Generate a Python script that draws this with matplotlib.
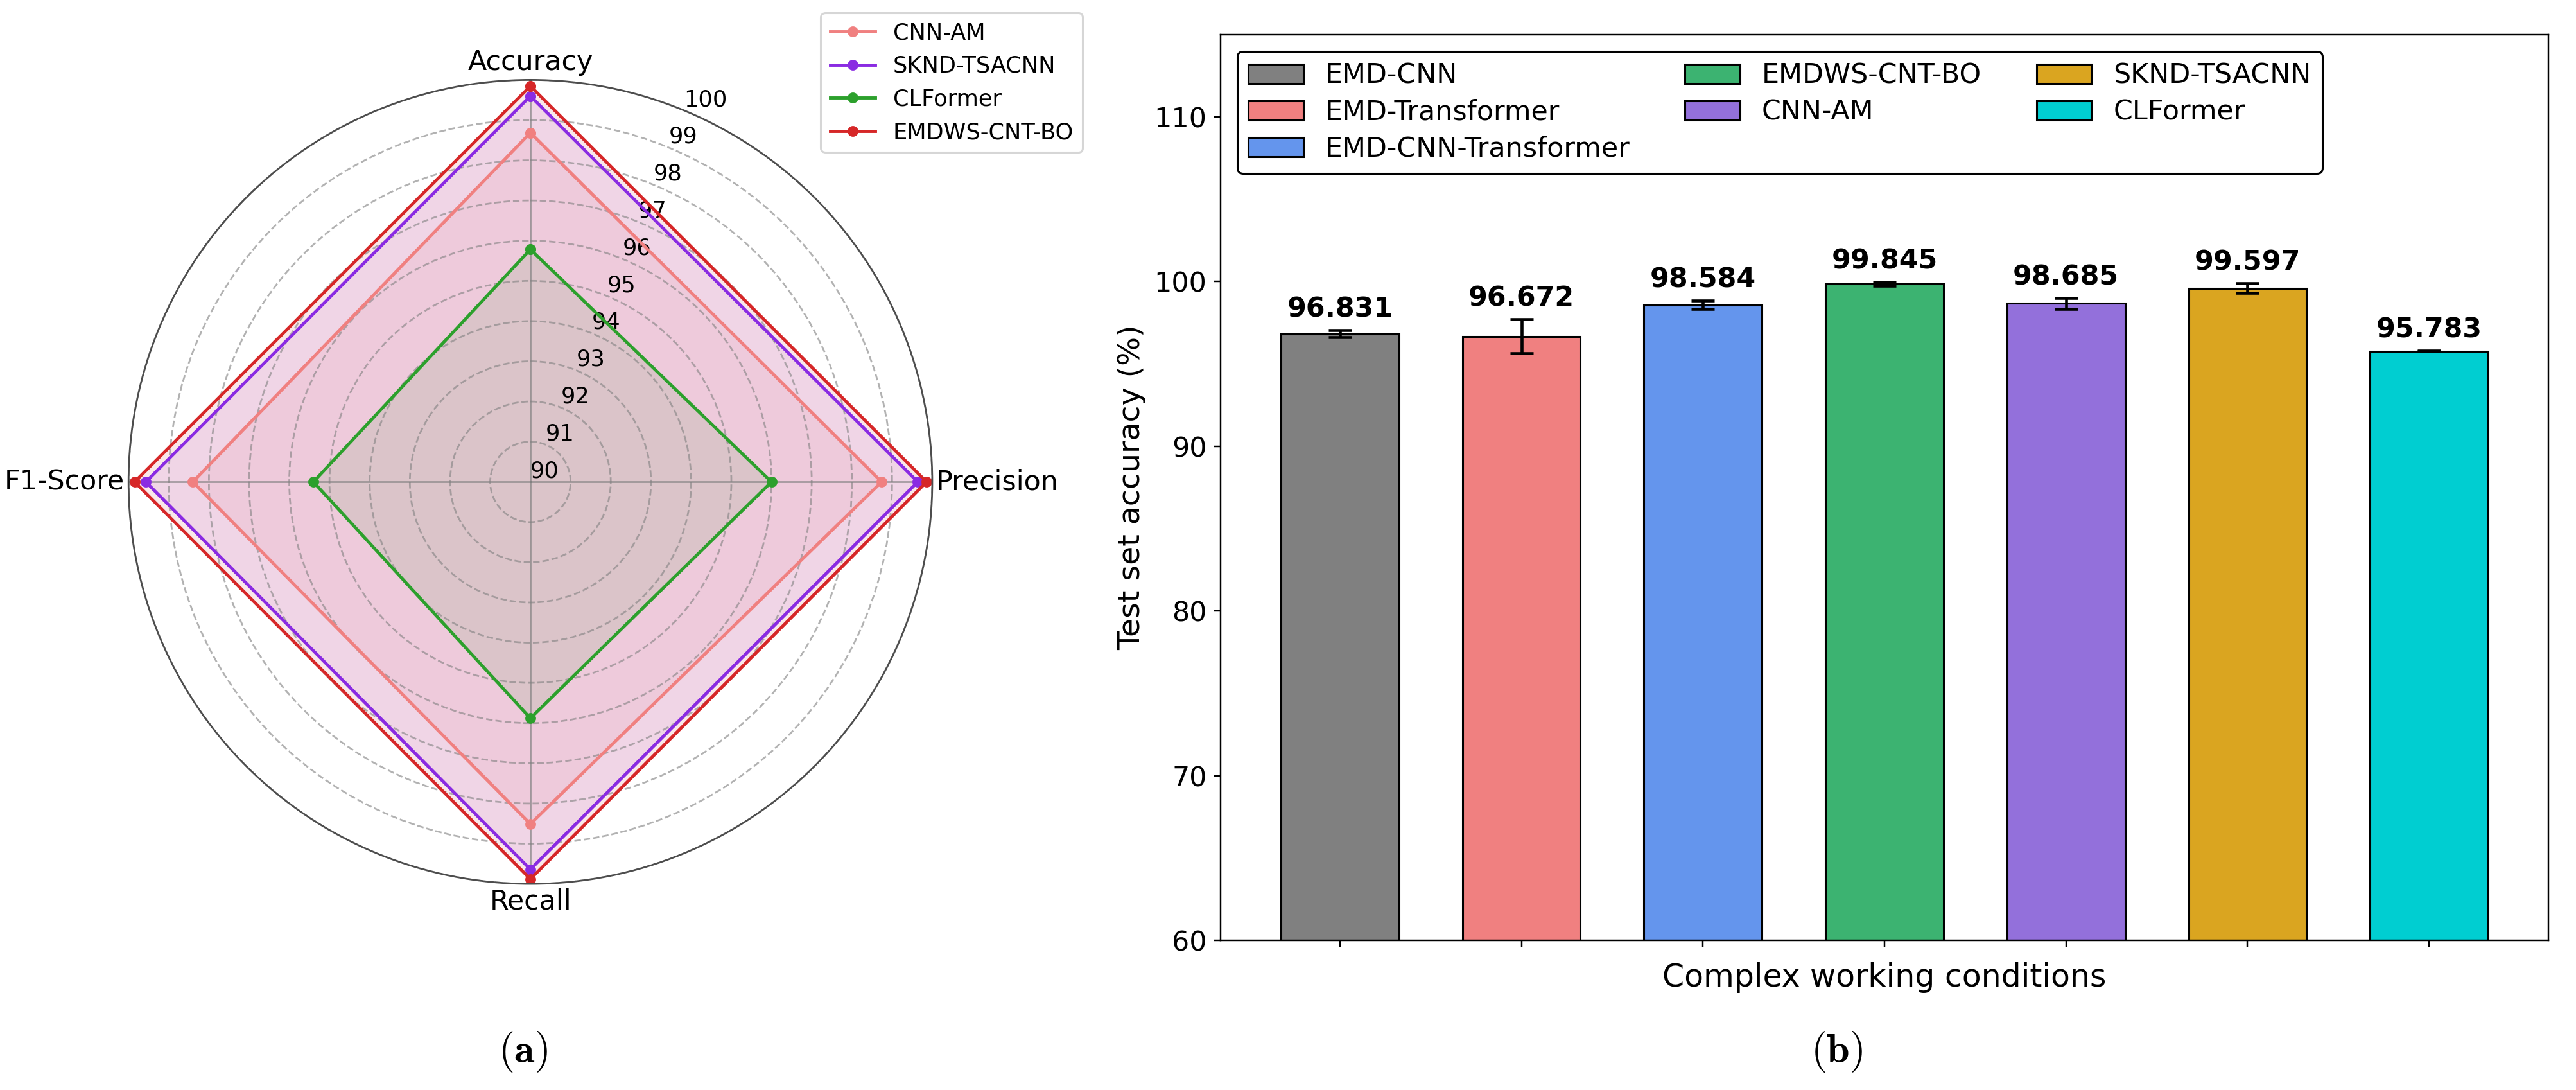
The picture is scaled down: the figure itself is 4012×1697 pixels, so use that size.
import numpy as np
import matplotlib
matplotlib.use("Agg")
import matplotlib.pyplot as plt

plt.rcParams['mathtext.fontset'] = 'cm'

# ---------------------------------------------------------------- data (a)
metricas = ['Accuracy', 'Precision', 'Recall', 'F1-Score']
modelos_radar = ['CNN-AM', 'SKND-TSACNN', 'CLFormer', 'EMDWS-CNT-BO']
cnn_am = [98.685, 98.74, 98.51, 98.40]
sknd_tsacnn = [99.597, 99.64, 99.64, 99.57]
clformer = [95.783, 96.00, 95.88, 95.40]
emdws_cnt_bo = [99.845, 99.86, 99.88, 99.85]
r_ticks = [90, 91, 92, 93, 94, 95, 96, 97, 98, 99, 100]

# ---------------------------------------------------------------- data (b)
modelos_barra = ['EMD-CNN', 'EMD-Transformer', 'EMD-CNN-Transformer',
                 'EMDWS-CNT-BO', 'CNN-AM', 'SKND-TSACNN', 'CLFormer']
precision_test = [96.831, 96.672, 98.584, 99.845, 98.685, 99.597, 95.783]
error_test = [0.22, 1.04, 0.25, 0.12, 0.33, 0.30, 0.03]
y_ticks = [60, 70, 80, 90, 100, 110]

colores_radar = ['lightcoral', 'blueviolet', 'tab:green', 'tab:red']
colores_barra = ['gray', 'lightcoral', 'cornflowerblue', 'mediumseagreen',
                 'mediumpurple', 'goldenrod', 'darkturquoise']

DPI = 220
fig = plt.figure(figsize=(4012 / DPI, 1697 / DPI), dpi=DPI)

# ---------------------------------------------------------------- radar
ax1 = fig.add_axes([0.0499, 0.189, 0.312, 0.7378], projection='polar')
ax1.set_theta_offset(np.pi / 2)
ax1.set_theta_direction(-1)

angulos = np.linspace(0, 2 * np.pi, len(metricas), endpoint=False)
angulos_c = np.concatenate([angulos, angulos[:1]])

series = [cnn_am, sknd_tsacnn, clformer, emdws_cnt_bo]
for nombre, valores, col in zip(modelos_radar, series, colores_radar):
    v = np.concatenate([valores, valores[:1]])
    ax1.plot(angulos_c, v, '-o', color=col, linewidth=1.6, markersize=4.5, label=nombre)
    ax1.fill(angulos_c, v, color=col, alpha=0.1)

ax1.set_ylim(90, 100)
ax1.set_yticks(r_ticks)
ax1.set_yticklabels([str(t) for t in r_ticks], fontsize=11.5)
ax1.set_rlabel_position(22.5)
ax1.set_xticks(angulos)
ax1.set_xticklabels([])

# etiquetas de las metricas, pegadas al circulo exterior
desplaz = [((0, 2), 'center', 'bottom'), ((2, 0), 'left', 'center'),
           ((0, -2), 'center', 'top'), ((-2, 0), 'right', 'center')]
for ang, nombre, (off, ha, va) in zip(angulos, metricas, desplaz):
    ax1.annotate(nombre, xy=(ang, 100), xytext=off, textcoords='offset points',
                 ha=ha, va=va, fontsize=14, annotation_clip=False)

ax1.yaxis.grid(True, linestyle='--', color='gray', alpha=0.6, linewidth=0.9)
ax1.xaxis.grid(True, linestyle='-', color='gray', alpha=0.7, linewidth=0.9)
ax1.spines['polar'].set_color('0.3')
ax1.spines['polar'].set_linewidth(0.9)

fig.legend(loc='upper right', bbox_to_anchor=(0.4203, 0.988),
           fontsize=11.5, borderaxespad=0)

# ---------------------------------------------------------------- barras
ax2 = fig.add_axes([0.4738, 0.1373, 0.5155, 0.8310])
x = np.arange(len(modelos_barra))
barras = ax2.bar(x, precision_test, width=0.65, color=colores_barra,
                 edgecolor='black', linewidth=1.0, yerr=error_test,
                 capsize=6, error_kw={'elinewidth': 1.5, 'capthick': 1.5},
                 label=modelos_barra)

for xi, v, e in zip(x, precision_test, error_test):
    ax2.text(xi, v + e + 0.45, f'{v:.3f}', ha='center', va='bottom',
             fontsize=14, fontweight='bold')

ax2.set_ylim(60, 115)
ax2.set_yticks(y_ticks)
ax2.tick_params(axis='y', labelsize=14)
ax2.set_xticks(x)
ax2.set_xticklabels([])
ax2.set_xlabel('Complex working conditions', fontsize=16)
ax2.set_ylabel('Test set accuracy (%)', fontsize=15.5)

leg = ax2.legend(barras, modelos_barra, ncol=3, loc='upper left',
                 bbox_to_anchor=(0.0126, 0.9816), borderaxespad=0,
                 fontsize=14, edgecolor='black', framealpha=1,
                 labelspacing=0.35)

# ---------------------------------------------------------------- etiquetas
fig.text(0.203, 0.035, r'$(\mathbf{a})$', ha='center', va='center', fontsize=21)
fig.text(0.713, 0.035, r'$(\mathbf{b})$', ha='center', va='center', fontsize=21)

fig.savefig('out.png', dpi=DPI)
